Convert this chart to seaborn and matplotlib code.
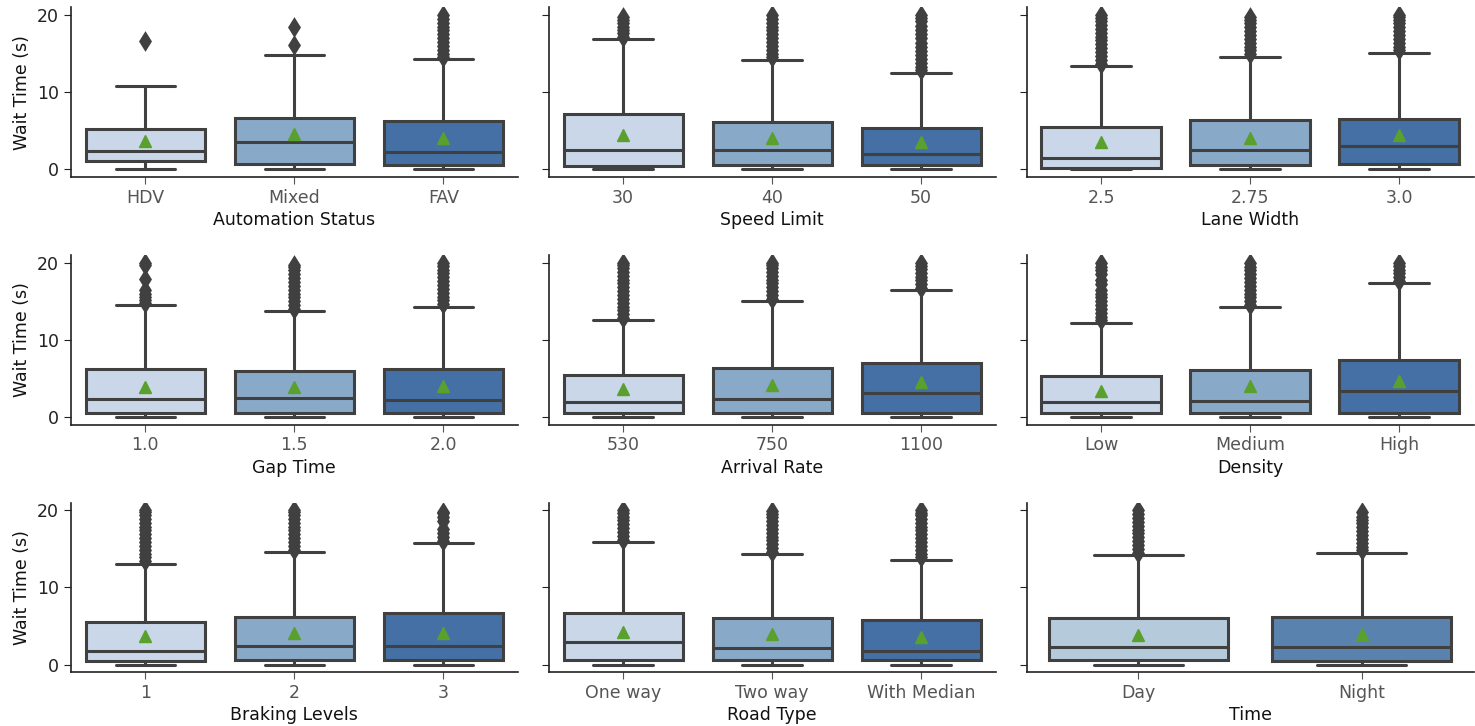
import matplotlib
matplotlib.use("Agg")
import matplotlib.pyplot as plt
import seaborn as sns

sns.set_style("ticks")
plt.rcParams['font.family'] = ['DejaVu Sans']

# Panel x-axis labels and categories
panel_titles = ["Automation Status", "Speed Limit", "Lane Width",
                "Gap Time", "Arrival Rate", "Density",
                "Braking Levels", "Road Type", "Time"]
panel_cats = [["HDV", "Mixed", "FAV"],
              ["30", "40", "50"],
              ["2.5", "2.75", "3.0"],
              ["1.0", "1.5", "2.0"],
              ["530", "750", "1100"],
              ["Low", "Medium", "High"],
              ["1", "2", "3"],
              ["One way", "Two way", "With Median"],
              ["Day", "Night"]]

# box statistics (wait time, s)
q1s = [[1.0, 0.7, 0.55], [0.45, 0.55, 0.5], [0.2, 0.55, 0.7],
       [0.48, 0.48, 0.48], [0.48, 0.48, 0.48], [0.48, 0.48, 0.48],
       [0.43, 0.56, 0.56], [0.57, 0.57, 0.57], [0.57, 0.48]]
medians = [[2.3, 3.5, 2.2], [2.45, 2.45, 2.0], [1.5, 2.45, 3.05],
           [2.3, 2.48, 2.2], [1.96, 2.27, 3.14], [1.96, 2.1, 3.4],
           [1.82, 2.47, 2.47], [2.87, 2.09, 1.78], [2.3, 2.3]]
q3s = [[5.16, 6.6, 6.2], [7.1, 6.1, 5.4], [5.5, 6.35, 6.55],
       [6.27, 5.9, 6.2], [5.4, 6.4, 6.93], [5.27, 6.14, 7.36],
       [5.54, 6.19, 6.67], [6.65, 6.09, 5.83], [6.04, 6.17]]
whis_hi = [[10.8, 14.8, 14.3], [16.9, 14.2, 12.45], [13.4, 14.55, 15.1],
           [14.5, 13.7, 14.3], [12.5, 15.0, 16.4], [12.2, 14.2, 17.3],
           [13.07, 14.6, 15.7], [15.87, 14.3, 13.6], [14.17, 14.48]]
means = [[3.6, 4.6, 4.0], [4.4, 4.05, 3.55], [3.5, 4.05, 4.4],
         [3.9, 3.9, 4.05], [3.57, 4.1, 4.5], [3.36, 3.97, 4.66],
         [3.64, 4.03, 4.07], [4.2, 4.0, 3.6], [3.87, 3.96]]
fliers = [
    [[16.6], [16.1, 18.5],
     [14.6, 15.0, 15.5, 16.0, 16.5, 17.0, 17.5, 18.0, 18.5, 19.0, 19.5, 20.0]],
    [[17.2, 17.6, 18.0, 18.5, 19.0, 19.4, 19.8],
     [14.5, 15.0, 15.5, 16.0, 16.5, 17.0, 17.5, 18.0, 18.5, 19.0, 19.5, 20.0],
     [12.8, 13.3, 13.8, 14.3, 14.8, 15.3, 15.8, 16.4, 17.0, 17.5, 18.0, 18.6, 19.2, 19.6, 20.0]],
    [[13.7, 14.2, 14.7, 15.2, 15.7, 16.2, 16.7, 17.2, 17.7, 18.2, 18.7, 19.2, 19.6, 20.0],
     [14.9, 15.4, 15.9, 16.4, 16.9, 17.4, 17.9, 18.4, 18.9, 19.4, 19.8],
     [15.4, 15.9, 16.4, 16.9, 17.4, 17.9, 18.4, 18.9, 19.4, 19.8, 20.0]],
    [[14.8, 15.2, 15.6, 16.0, 16.5, 17.9, 19.7, 20.0],
     [14.0, 14.5, 15.0, 15.5, 16.0, 16.5, 17.0, 17.5, 18.0, 18.5, 19.0, 19.4, 19.7],
     [14.6, 15.1, 15.6, 16.1, 16.6, 17.1, 17.6, 18.1, 18.6, 19.1, 19.6, 20.0]],
    [[12.8, 13.3, 13.8, 14.3, 14.8, 15.3, 15.8, 16.3, 16.8, 17.3, 17.8, 18.3, 18.8, 19.3, 19.7, 20.0],
     [15.3, 15.8, 16.3, 16.8, 17.3, 17.8, 18.3, 18.8, 19.3, 19.7, 20.0],
     [16.7, 17.2, 17.7, 18.2, 18.7, 19.2, 19.6, 20.0]],
    [[12.5, 13.0, 13.5, 14.0, 14.5, 15.0, 15.5, 16.0, 16.4, 17.2, 17.8, 18.5, 19.0, 19.5, 20.0],
     [14.5, 15.0, 15.5, 16.0, 16.5, 17.0, 17.5, 18.0, 18.5, 19.0, 19.5, 20.0],
     [17.6, 18.1, 18.6, 19.1, 19.6, 19.9]],
    [[13.4, 13.9, 14.4, 14.9, 15.4, 15.9, 16.4, 16.9, 17.4, 17.9, 18.4, 18.9, 19.4, 19.8, 20.0],
     [14.9, 15.4, 15.9, 16.4, 16.9, 17.4, 17.9, 18.4, 18.9, 19.4, 19.8, 20.0],
     [16.0, 16.5, 17.0, 17.6, 18.6, 19.2, 19.6, 19.8]],
    [[16.2, 16.7, 17.2, 17.7, 18.2, 18.7, 19.2, 19.6, 20.0],
     [14.6, 15.1, 15.6, 16.1, 16.6, 17.1, 17.6, 18.1, 18.6, 19.1, 19.5, 19.9],
     [13.9, 14.4, 14.9, 15.4, 15.9, 16.4, 16.9, 17.4, 17.9, 18.4, 18.9, 19.4, 19.7, 20.0]],
    [[14.5, 15.0, 15.5, 16.0, 16.5, 17.0, 17.5, 18.0, 18.5, 19.0, 19.5, 20.0],
     [14.8, 15.3, 15.8, 16.3, 16.8, 17.3, 17.8, 18.3, 18.8, 19.2, 19.8]],
]

# muted "Blues" fills as seen in the picture
fills_3 = ["#c9d7e9", "#88a9c8", "#4470a5"]
fills_2 = ["#b5cbdc", "#5a82ae"]

line_col = "#404040"
mean_col = "#5aa02c"

fig, axes = plt.subplots(3, 3, figsize=(14.75, 7.26), dpi=100, sharey='row')
fig.subplots_adjust(left=0.048, right=0.999, bottom=0.074, top=0.99,
                    wspace=0.069, hspace=0.46)

for i, ax in enumerate(axes.flat):
    cats = panel_cats[i]
    n = len(cats)
    colors = sns.color_palette(fills_3 if n == 3 else fills_2, n)
    stats = []
    for j in range(n):
        stats.append(dict(med=medians[i][j], q1=q1s[i][j], q3=q3s[i][j],
                          whislo=0.0, whishi=whis_hi[i][j],
                          mean=means[i][j], fliers=fliers[i][j]))
    bp = ax.bxp(stats, positions=list(range(n)), widths=0.8,
                patch_artist=True, showmeans=True, manage_ticks=False,
                boxprops=dict(edgecolor=line_col, linewidth=2.2),
                medianprops=dict(color=line_col, linewidth=2.2),
                whiskerprops=dict(color=line_col, linewidth=2.2),
                capprops=dict(color=line_col, linewidth=2.2),
                flierprops=dict(marker='d', markersize=8, markerfacecolor=line_col,
                                markeredgecolor=line_col, markeredgewidth=1.8),
                meanprops=dict(marker='^', markersize=9, markerfacecolor=mean_col,
                               markeredgecolor=mean_col))
    for patch, c in zip(bp['boxes'], colors):
        patch.set_facecolor(c)
    ax.set_xlim(-0.5, n - 0.5)
    ax.set_ylim(-1, 21)
    ax.set_xticks(list(range(n)))
    ax.set_xticklabels(cats)
    ax.set_yticks([0, 10, 20])
    ax.set_xlabel(panel_titles[i], fontsize=12.5, color="#111111", labelpad=3)
    ax.tick_params(axis='x', labelsize=12.5, colors="#555555", length=5)
    ax.tick_params(axis='y', labelsize=12.5, colors="#222222", length=5)
    for sp in ['left', 'bottom']:
        ax.spines[sp].set_color("#222222")
        ax.spines[sp].set_linewidth(1.2)
    if i % 3 == 0:
        ax.set_ylabel("Wait Time (s)", fontsize=12.5, color="#111111")

sns.despine(fig)
fig.savefig("out.png", dpi=100)
